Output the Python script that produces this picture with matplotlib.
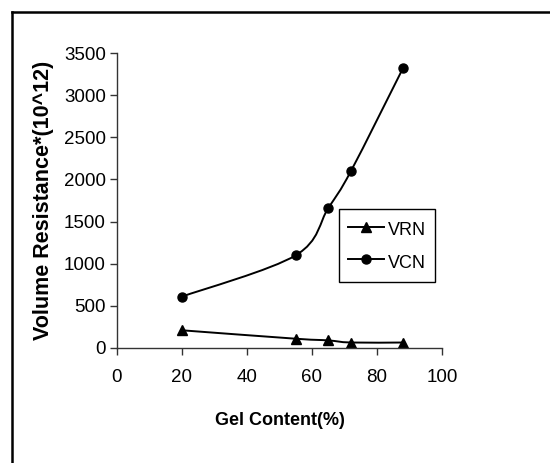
import numpy as np
import matplotlib
matplotlib.use("Agg")
import matplotlib.pyplot as plt
from matplotlib.path import Path
from matplotlib.patches import PathPatch
from matplotlib.lines import Line2D

gel = [20, 55, 65, 72, 88]
vrn = [210, 110, 90, 65, 65]
vcn = [610, 1100, 1660, 2100, 3320]

sans = ['Liberation Sans', 'DejaVu Sans']


def smooth_path(x, y):
    # excel-style smoothed line: cubic bezier segments through the points
    p = np.column_stack([x, y]).astype(float)
    n = len(p)
    verts = [p[0]]
    codes = [Path.MOVETO]
    for i in range(n - 1):
        p0 = p[i - 1] if i > 0 else p[i]
        p3 = p[i + 2] if i + 2 < n else p[i + 1]
        c1 = p[i] + (p[i + 1] - p0) / 6.0
        c2 = p[i + 1] - (p3 - p[i]) / 6.0
        verts += [c1, c2, p[i + 1]]
        codes += [Path.CURVE4] * 3
    return Path(verts, codes)


fig = plt.figure(figsize=(5.5, 4.63), dpi=100)
ax = fig.add_axes([0.2127, 0.2484, 0.5909, 0.6371])

for ys, mk, ms in [(vrn, '^', 7), (vcn, 'o', 6.5)]:
    ax.add_patch(PathPatch(smooth_path(gel, ys), facecolor='none', edgecolor='black',
                           lw=1.4, transform=ax.transData))
    ax.plot(gel, ys, linestyle='none', marker=mk, markersize=ms, color='black')

ax.set_xlim(0, 100)
ax.set_ylim(0, 3500)
ax.set_xticks(np.arange(0, 101, 20))
ax.set_yticks(np.arange(0, 3501, 500))
for s in ['top', 'right']:
    ax.spines[s].set_visible(False)
for s in ['left', 'bottom']:
    ax.spines[s].set_linewidth(1.0)
    ax.spines[s].set_color('#333333')
ax.tick_params(direction='out', length=5, width=1, color='#333333', labelsize=13.5, pad=3)
for lab in ax.get_xticklabels() + ax.get_yticklabels():
    lab.set_family(sans)
ax.tick_params(axis='x', pad=10)

ax.set_xlabel('Gel Content(%)', fontsize=13, fontweight='bold', family=sans, labelpad=19)
ax.set_ylabel('Volume Resistance*(10^12)', fontsize=15.5, fontweight='bold',
              family=sans, labelpad=7)

handles = [Line2D([], [], color='black', lw=1.4, marker='^', markersize=7),
           Line2D([], [], color='black', lw=1.4, marker='o', markersize=6.5)]
leg = ax.legend(handles, ['VRN', 'VCN'], loc='upper left', bbox_to_anchor=(0.683, 0.471),
                frameon=True, fancybox=False, edgecolor='black', framealpha=1,
                prop={'family': sans, 'size': 13}, handlelength=2.0, handleheight=1.5,
                handletextpad=0.2, labelspacing=0.6, borderpad=0.5, borderaxespad=0,
                markerfirst=True, numpoints=1)
leg.get_frame().set_linewidth(1.0)

# outer chart-area frame (only top and left edges visible)
fig.add_artist(Line2D([12 / 550, 12 / 550], [0, 1 - 12 / 463], color='black', lw=1.8,
                      transform=fig.transFigure))
fig.add_artist(Line2D([12 / 550, 1], [1 - 12 / 463, 1 - 12 / 463], color='black', lw=1.8,
                      transform=fig.transFigure))

fig.savefig('out.png', dpi=100)
